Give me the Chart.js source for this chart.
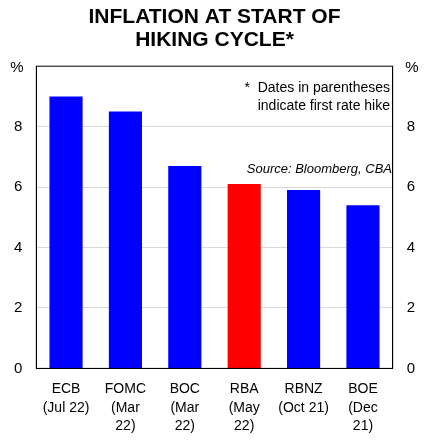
<!DOCTYPE html>
<html>
<head>
<meta charset="utf-8">
<script src="https://cdn.jsdelivr.net/npm/chart.js@4"></script>
<style>
  body { margin: 0; background: #fff; }
  #wrap { width: 429px; height: 445px; position: relative; }
</style>
</head>
<body>
<div id="wrap"><canvas id="chart" width="429" height="445"></canvas></div>
<script>
const categories = [['ECB', '(Jul 22)'], ['FOMC', '(Mar', '22)'], ['BOC', '(Mar', '22)'], ['RBA', '(May', '22)'], ['RBNZ', '(Oct 21)'], ['BOE', '(Dec', '21)']];
const inflation = [9.0, 8.5, 6.7, 6.1, 5.9, 5.4];
const barColours = ['#0000ff', '#0000ff', '#0000ff', '#ff0000', '#0000ff', '#0000ff'];
const yTicks = [0, 2, 4, 6, 8];

// notes drawn inside the plot area, plus the % labels and the frame
const extras = {
    id: 'extras',
    afterDraw(chart) {
        const { ctx, chartArea: a } = chart;
        ctx.save();
        ctx.strokeStyle = '#000';
        ctx.lineWidth = 1;
        ctx.strokeRect(a.left, a.top, a.right - a.left, a.bottom - a.top);
        ctx.fillStyle = '#000';
        ctx.font = '15px "Liberation Sans", Arial';
        ctx.textAlign = 'center';
        ctx.fillText('%', 17, 72);
        ctx.fillText('%', 412, 72);
        ctx.font = '14px "Liberation Sans", Arial';
        ctx.textAlign = 'right';
        ctx.fillText('*  Dates in parentheses', 390, 92);
        ctx.fillText('indicate first rate hike', 390, 110);
        ctx.font = 'italic 13px "Liberation Sans", Arial';
        ctx.fillText('Source: Bloomberg, CBA', 392, 173);
        ctx.restore();
    }
};

new Chart(document.getElementById('chart').getContext('2d'), {
    type: 'bar',
    data: {
        labels: categories,
        datasets: [{ data: inflation, backgroundColor: barColours, categoryPercentage: 0.9, barPercentage: 0.62 }]
    },
    options: {
        responsive: false,
        animation: false,
        layout: { padding: { left: 0, right: 0, top: 0, bottom: 6 } },
        plugins: {
            legend: { display: false },
            tooltip: { enabled: false },
            title: {
                display: true,
                text: ['INFLATION AT START OF', 'HIKING CYCLE*'],
                color: '#000',
                font: { family: '"Liberation Sans", Arial', size: 21, weight: 'bold', lineHeight: 1.1 },
                padding: { top: 6, bottom: 14 }
            }
        },
        scales: {
            x: {
                grid: { display: false },
                border: { color: '#000' },
                ticks: { color: '#000', padding: 4, font: { family: '"Liberation Sans", Arial', size: 14, lineHeight: 1.3 }, maxRotation: 0, autoSkip: false }
            },
            y: {
                min: 0, max: 10,
                afterBuildTicks(s) { s.ticks = yTicks.map(v => ({ value: v })); },
                grid: { color: '#d9d9d9', drawTicks: false },
                border: { color: '#000' },
                ticks: { color: '#000', padding: 14, font: { family: '"Liberation Sans", Arial', size: 15 } }
            },
            y2: {
                position: 'right',
                min: 0, max: 10,
                afterBuildTicks(s) { s.ticks = yTicks.map(v => ({ value: v })); },
                grid: { display: false, drawTicks: false },
                border: { color: '#000' },
                ticks: { color: '#000', padding: 14, font: { family: '"Liberation Sans", Arial', size: 15 } }
            }
        }
    },
    plugins: [extras]
});
</script>
</body>
</html>
